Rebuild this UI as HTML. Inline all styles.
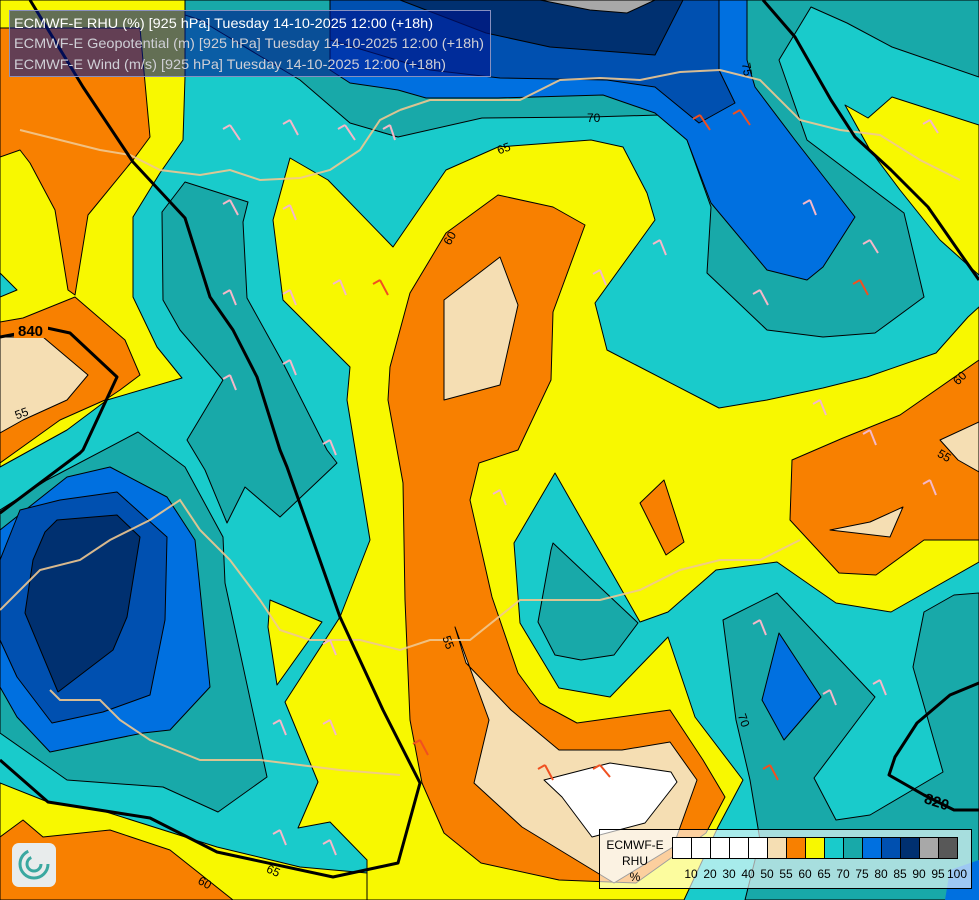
<!DOCTYPE html>
<html><head><meta charset="utf-8"><style>
html,body{margin:0;padding:0;background:#19cbcb;}
svg{display:block;}
text{font-family:"Liberation Sans",sans-serif;}
</style></head><body>
<svg width="979" height="900" viewBox="0 0 979 900" xmlns="http://www.w3.org/2000/svg">
<g stroke="#000" stroke-width="1" stroke-linejoin="round">
<rect x="0" y="0" width="979" height="900" fill="#19cbcb" stroke="none"/>
<polygon fill="#18a9a9" points="140,0 979,0 979,77 892,47 847,23 811,7 779,60 807,140 904,213 924,297 875,333 823,337 767,330 707,273 711,207 687,140 659,115 591,117 482,118 398,137 350,123 300,80 200,20"/>
<polygon fill="#0070e0" points="330,0 747,0 747,60 755,87 795,140 855,217 823,267 807,280 767,270 711,203 687,140 655,113 603,95 498,98 426,98 398,90 350,83 330,70"/>
<polygon fill="#0050b0" points="330,0 719,0 719,70 735,103 699,123 655,87 607,80 500,78 430,70 380,55 330,40"/>
<polygon fill="#003070" points="400,0 683,0 655,55 550,47 486,33"/>
<polygon fill="#a8a8a8" points="540,0 655,0 627,13 590,10"/>
<polygon fill="#f8f800" points="845,105 868,118 892,97 979,125 979,275 940,240 900,190 870,150"/>
<polygon fill="#f8f800" points="0,0 185,0 185,77 183,140 160,173 133,217 133,297 157,347 182,378 107,400 67,430 0,467"/>
<polygon fill="#f88000" points="0,28 140,28 150,137 133,160 88,215 75,295 68,290 55,210 30,163 20,150 0,157"/>
<polygon fill="#f88000" points="0,322 23,318 75,297 125,340 140,375 120,390 105,400 60,420 0,463"/>
<polygon fill="#f5deb3" points="0,337 43,337 88,375 67,400 23,420 0,433"/>
<polygon fill="#19cbcb" points="0,273 17,290 0,297"/>
<polygon fill="#18a9a9" points="185,182 248,202 243,222 247,298 283,363 327,450 337,463 280,517 245,487 227,523 205,470 187,440 223,380 180,330 163,300 162,212"/>
<polygon fill="#18a9a9" points="0,510 47,480 138,432 185,467 223,537 225,583 267,777 218,812 163,787 67,780 0,733"/>
<polygon fill="#0070e0" points="0,530 67,477 110,467 167,497 195,540 210,687 170,730 143,733 50,752 17,717 0,687"/>
<polygon fill="#0050b0" points="0,560 20,510 60,500 117,492 167,537 165,620 150,695 103,712 52,723 17,677 0,640"/>
<polygon fill="#003070" points="57,520 117,515 140,537 127,617 113,650 58,692 25,613 33,560 45,532"/>
<polygon fill="#f8f800" points="270,600 322,622 277,685 268,627"/>
<polygon fill="#f8f800" points="273,220 290,158 328,180 393,247 446,170 498,147 591,140 623,147 647,193 655,220 595,303 607,350 719,408 767,400 823,388 867,377 936,353 968,317 979,307 979,562 891,612 836,603 777,562 716,570 668,612 640,622 555,473 514,543 520,623 559,688 610,697 668,637 695,717 743,780 718,827 684,900 367,900 367,860 330,822 298,828 318,782 285,702 340,617 370,540 347,400 350,367 283,300"/>
<polygon fill="#f88000" points="498,195 446,233 410,293 390,367 388,400 403,483 405,600 410,720 422,783 444,833 481,863 559,880 636,883 706,833 725,797 703,760 670,710 577,723 540,703 518,673 492,597 470,500 479,463 518,450 551,380 553,312 585,225 553,207"/>
<polygon fill="#f5deb3" points="500,257 518,305 500,385 444,400 444,300"/>
<polygon fill="#f5deb3" points="455,627 466,663 511,710 559,750 622,750 670,742 697,780 673,847 614,883 522,827 474,783 489,720"/>
<polygon fill="#ffffff" points="544,780 610,763 671,772 677,782 645,823 592,837 562,797"/>
<polygon fill="#f88000" points="664,480 684,542 666,555 640,503"/>
<polygon fill="#f88000" points="790,520 792,460 843,438 900,415 979,360 979,540 924,540 876,575 839,573"/>
<polygon fill="#f5deb3" points="830,530 870,522 903,507 890,537"/>
<polygon fill="#f5deb3" points="940,440 979,422 979,472 958,460"/>
<polygon fill="#18a9a9" points="551,550 553,543 638,623 614,655 581,660 555,655 538,622"/>
<polygon fill="#18a9a9" points="723,620 777,593 875,697 814,778 836,820 870,815 943,772 913,667 924,612 954,595 979,593 979,900 745,900 760,840 750,780 736,720"/>
<polygon fill="#0070e0" points="779,633 821,697 784,740 762,700"/>
<polygon fill="#0070e0" stroke="none" points="950,870 979,860 979,900 945,900"/>
<polygon fill="#f8f800" points="0,783 48,802 100,810 217,847 300,867 367,873 367,900 0,900"/>
<polygon fill="#f88000" points="0,837 23,820 43,837 110,830 170,850 233,900 0,900"/>
</g>
<g fill="none" stroke="#f0c890" stroke-width="2" opacity="0.9">
<polyline points="20,130 60,140 100,150 130,155 160,170 200,175 230,170 260,180 300,178 330,170 360,150 380,120 400,110"/>
<polyline points="400,110 430,100 470,100 520,100 560,80 600,78 640,80 680,72 720,70 760,80 800,120 840,130 880,135 920,160 960,180"/>
<polyline points="0,610 40,570 80,560 110,540 150,520 180,500 200,530 230,560 260,600 280,630 310,640 360,640 400,650 430,640 470,640 520,600 560,600 600,600 640,590 680,570 720,560 760,560 800,540"/>
<polyline points="50,690 60,700 100,700 120,720 150,740 200,760 260,760 300,765 340,770 400,775"/>
</g>
<!-- wind barbs -->
<g fill="none" stroke="#f4b8c8" stroke-width="2">
<path d="M230,125 l10,15 M230,125 l-7,4"/><path d="M290,120 l8,15 M290,120 l-7,4"/><path d="M345,125 l10,15 M345,125 l-7,4"/>
<path d="M230,200 l8,15 M230,200 l-7,4"/><path d="M290,205 l6,15 M290,205 l-7,4"/><path d="M390,125 l5,15 M390,125 l-7,4"/>
<path d="M230,290 l6,15 M230,290 l-7,4"/><path d="M290,290 l6,15 M290,290 l-7,4"/><path d="M340,280 l6,15 M340,280 l-7,4"/>
<path d="M230,375 l6,15 M230,375 l-7,4"/><path d="M290,360 l6,15 M290,360 l-7,4"/><path d="M330,440 l6,15 M330,440 l-7,4"/>
<path d="M600,270 l6,15 M600,270 l-7,4"/><path d="M660,240 l6,15 M660,240 l-7,4"/><path d="M760,290 l8,15 M760,290 l-7,4"/>
<path d="M810,200 l6,15 M810,200 l-7,4"/><path d="M870,240 l8,13 M870,240 l-7,4"/><path d="M930,120 l8,13 M930,120 l-7,4"/>
<path d="M820,400 l6,15 M820,400 l-7,4"/><path d="M870,430 l6,15 M870,430 l-7,4"/><path d="M930,480 l6,15 M930,480 l-7,4"/>
<path d="M760,620 l6,15 M760,620 l-7,4"/><path d="M830,690 l6,15 M830,690 l-7,4"/><path d="M880,680 l6,15 M880,680 l-7,4"/>
<path d="M330,640 l6,15 M330,640 l-7,4"/><path d="M280,720 l6,15 M280,720 l-7,4"/><path d="M330,720 l6,15 M330,720 l-7,4"/>
<path d="M280,830 l6,15 M280,830 l-7,4"/><path d="M330,840 l6,15 M330,840 l-7,4"/><path d="M500,490 l6,15 M500,490 l-7,4"/>
</g>
<g fill="none" stroke="#f05020" stroke-width="2">
<path d="M700,115 l10,15 M700,115 l-7,4"/><path d="M740,110 l10,15 M740,110 l-7,4"/><path d="M380,280 l8,15 M380,280 l-7,4"/>
<path d="M420,740 l8,15 M420,740 l-7,4"/><path d="M545,765 l8,15 M545,765 l-7,4"/><path d="M600,765 l10,12 M600,765 l-7,4"/>
<path d="M770,765 l8,15 M770,765 l-7,4"/><path d="M860,280 l8,15 M860,280 l-7,4"/>
</g>
<g fill="none" stroke="#000" stroke-width="3" stroke-linejoin="round">
<polyline points="30,0 83,87 133,162 185,218 210,297 233,330 257,377 280,450 287,467 340,617 383,710 420,783 398,863 333,877 217,852 150,818 48,802 0,760"/>
<polyline points="0,337 47,328 70,333 117,377 83,450 80,453 0,513"/>
<polyline points="763,0 795,37 831,100 855,137 891,170 928,207 960,253 979,280"/>
<polyline points="979,683 950,695 917,723 895,757 889,775 924,795 954,810 979,810"/>
</g>
<rect x="14" y="322" width="34" height="16" fill="#f88000"/>
<text x="18" y="336" font-size="15" font-weight="bold">840</text>
<text x="924" y="808" font-size="15" font-weight="bold" transform="rotate(18 940 803)">820</text>
<g font-size="12" fill="#000">
<text x="587" y="122">70</text>
<text x="497" y="152" transform="rotate(-20 505 148)">65</text>
<text x="443" y="242" transform="rotate(-60 450 238)">60</text>
<text x="953" y="382" transform="rotate(-45 960 378)">60</text>
<text x="938" y="460" transform="rotate(30 945 455)">55</text>
<text x="733" y="722" transform="rotate(70 740 722)">70</text>
<text x="437" y="645" transform="rotate(70 445 645)">55</text>
<text x="15" y="418" transform="rotate(-20 20 414)">55</text>
<text x="738" y="72" transform="rotate(80 745 70)">75</text>
<text x="267" y="875" transform="rotate(25 274 870)">65</text>
<text x="198" y="887" transform="rotate(30 205 883)">60</text>
</g>
<rect x="9.5" y="10.5" width="481" height="66" fill="rgba(0,20,140,0.6)" stroke="#8890c0" stroke-width="1"/>
<g font-size="14">
<text x="14" y="28" fill="#ffffff" textLength="419" lengthAdjust="spacingAndGlyphs">ECMWF-E RHU (%) [925 hPa] Tuesday 14-10-2025 12:00 (+18h)</text>
<text x="14" y="48" fill="#cfcfd6" textLength="470" lengthAdjust="spacingAndGlyphs">ECMWF-E Geopotential (m) [925 hPa] Tuesday 14-10-2025 12:00 (+18h)</text>
<text x="14" y="69" fill="#cfcfd6" textLength="432" lengthAdjust="spacingAndGlyphs">ECMWF-E Wind (m/s) [925 hPa] Tuesday 14-10-2025 12:00 (+18h)</text>
</g>
<rect x="12" y="843" width="44" height="44" rx="7" fill="#e8ecec"/>
<circle cx="34" cy="864" r="14" fill="none" stroke="#3aa8a0" stroke-width="3" stroke-dasharray="60 30"/>
<circle cx="34" cy="864" r="7" fill="none" stroke="#3aa8a0" stroke-width="3" stroke-dasharray="30 15"/>
<rect x="599.5" y="829.5" width="372" height="59" fill="rgba(255,255,255,0.62)" stroke="#000"/>
<g stroke="#000" stroke-width="1">
<rect x="672.5" y="837.5" width="19" height="21" fill="#fff"/>
<rect x="691.5" y="837.5" width="19" height="21" fill="#fff"/>
<rect x="710.5" y="837.5" width="19" height="21" fill="#fff"/>
<rect x="729.5" y="837.5" width="19" height="21" fill="#fff"/>
<rect x="748.5" y="837.5" width="19" height="21" fill="#fff"/>
<rect x="767.5" y="837.5" width="19" height="21" fill="#f5deb3"/>
<rect x="786.5" y="837.5" width="19" height="21" fill="#f88000"/>
<rect x="805.5" y="837.5" width="19" height="21" fill="#f8f800"/>
<rect x="824.5" y="837.5" width="19" height="21" fill="#19cbcb"/>
<rect x="843.5" y="837.5" width="19" height="21" fill="#18a9a9"/>
<rect x="862.5" y="837.5" width="19" height="21" fill="#0070e0"/>
<rect x="881.5" y="837.5" width="19" height="21" fill="#0050b0"/>
<rect x="900.5" y="837.5" width="19" height="21" fill="#003070"/>
<rect x="919.5" y="837.5" width="19" height="21" fill="#a8a8a8"/>
<rect x="938.5" y="837.5" width="19" height="21" fill="#585858"/>
</g>
<g font-size="12" fill="#000" text-anchor="middle">
<text x="635" y="849">ECMWF-E</text>
<text x="635" y="865">RHU</text>
<text x="635" y="881">%</text>
<text x="691" y="878">10</text><text x="710" y="878">20</text><text x="729" y="878">30</text>
<text x="748" y="878">40</text><text x="767" y="878">50</text><text x="786" y="878">55</text>
<text x="805" y="878">60</text><text x="824" y="878">65</text><text x="843" y="878">70</text>
<text x="862" y="878">75</text><text x="881" y="878">80</text><text x="900" y="878">85</text>
<text x="919" y="878">90</text><text x="938" y="878">95</text><text x="957" y="878">100</text>
</g>
</svg>
</body></html>
